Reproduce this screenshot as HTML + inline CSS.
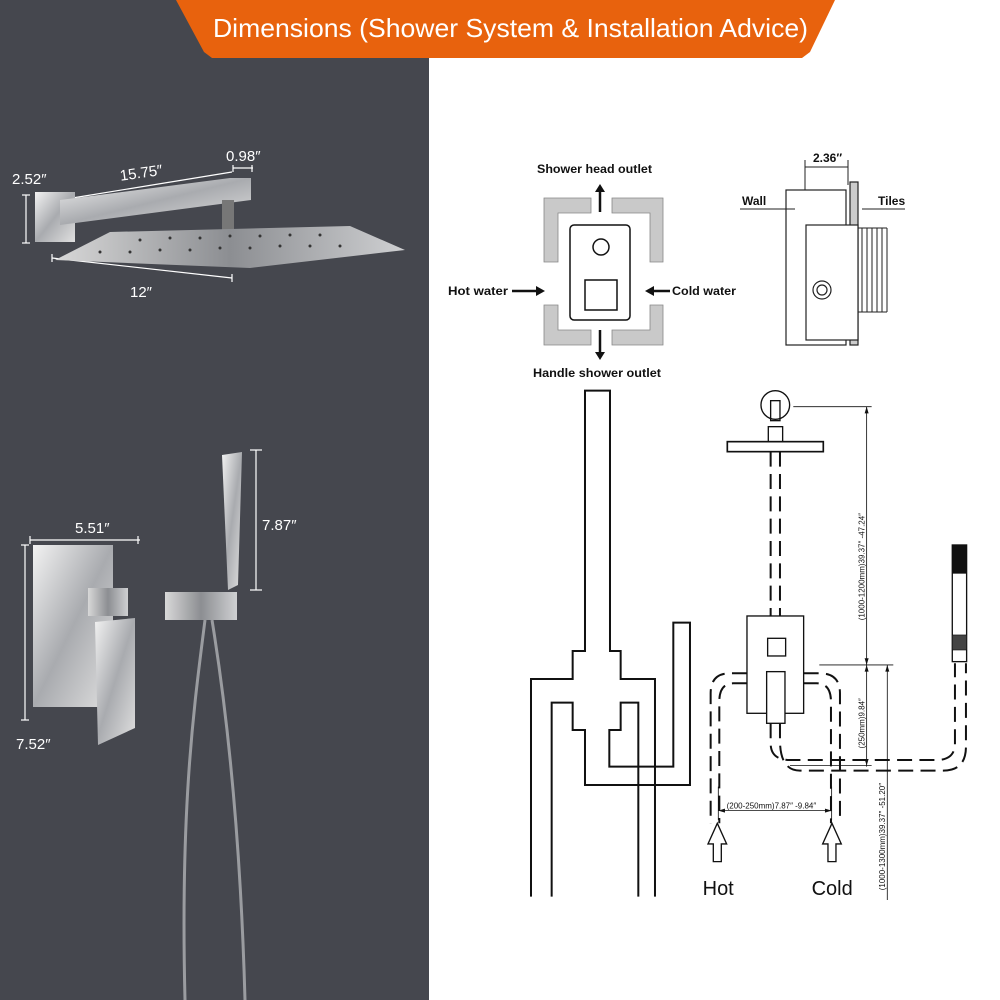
<!DOCTYPE html>
<html><head><meta charset="utf-8"><style>
html,body{margin:0;padding:0;background:#fff}
svg{display:block}
text{font-family:"Liberation Sans",sans-serif}
</style></head><body>
<svg width="1000" height="1000" viewBox="0 0 1000 1000" xmlns="http://www.w3.org/2000/svg">
<defs>
<linearGradient id="met" x1="0" y1="0" x2="1" y2="1"><stop offset="0" stop-color="#f2f2f2"/><stop offset="0.5" stop-color="#a9abaf"/><stop offset="1" stop-color="#e0e0e0"/></linearGradient>
<linearGradient id="met2" x1="0" y1="0" x2="1" y2="0"><stop offset="0" stop-color="#d8d8d8"/><stop offset="0.5" stop-color="#8c8e92"/><stop offset="1" stop-color="#cfd0d2"/></linearGradient>
</defs>
<rect x="0" y="0" width="1000" height="1000" fill="#fff"/>
<rect x="0" y="0" width="429" height="1000" fill="#45474e"/>
<!-- banner -->
<polygon points="176,0 835,0 810,52 802,58 212,58 204,52" fill="#e8620d"/>
<text x="213" y="37" font-size="26" fill="#fff" textLength="595" lengthAdjust="spacingAndGlyphs">Dimensions (Shower System &amp; Installation Advice)</text>

<!-- left: shower arm & head -->
<g fill="#fff" font-size="15">
<text x="12" y="184">2.52″</text>
<text x="120" y="178" transform="rotate(-8 140 175)">15.75″</text>
<text x="226" y="161">0.98″</text>
<text x="130" y="297">12″</text>
<text x="75" y="533">5.51″</text>
<text x="16" y="749">7.52″</text>
<text x="262" y="530">7.87″</text>
</g>
<g stroke="#fff" stroke-width="1.2" fill="none">
<line x1="26" y1="195" x2="26" y2="243"/><line x1="22" y1="195" x2="30" y2="195"/><line x1="22" y1="243" x2="30" y2="243"/>
<line x1="60" y1="200" x2="232" y2="172"/>
<line x1="233" y1="168" x2="253" y2="168"/><line x1="233" y1="165" x2="233" y2="172"/><line x1="252" y1="165" x2="252" y2="172"/>
<line x1="52" y1="258" x2="232" y2="278"/><line x1="52" y1="254" x2="52" y2="262"/><line x1="232" y1="274" x2="232" y2="282"/>
<line x1="30" y1="540" x2="140" y2="540"/><line x1="30" y1="536" x2="30" y2="544"/><line x1="138" y1="536" x2="138" y2="544"/>
<line x1="25" y1="545" x2="25" y2="720"/><line x1="21" y1="545" x2="29" y2="545"/><line x1="21" y1="720" x2="29" y2="720"/>
<line x1="256" y1="450" x2="256" y2="590"/><line x1="250" y1="450" x2="262" y2="450"/><line x1="250" y1="590" x2="262" y2="590"/>
</g>
<rect x="35" y="192" width="40" height="50" fill="url(#met)"/>
<polygon points="60,200 230,178 251,178 251,200 60,225" fill="url(#met)"/>
<rect x="222" y="200" width="12" height="30" fill="#777"/>
<polygon points="55,260 110,232 350,226 405,250 250,268" fill="url(#met2)"/>
<g fill="#333">
<circle cx="100" cy="252" r="1.5"/><circle cx="130" cy="252" r="1.5"/><circle cx="160" cy="250" r="1.5"/><circle cx="190" cy="250" r="1.5"/><circle cx="220" cy="248" r="1.5"/><circle cx="250" cy="248" r="1.5"/><circle cx="280" cy="246" r="1.5"/><circle cx="310" cy="246" r="1.5"/><circle cx="340" cy="246" r="1.5"/>
<circle cx="140" cy="240" r="1.5"/><circle cx="170" cy="238" r="1.5"/><circle cx="200" cy="238" r="1.5"/><circle cx="230" cy="236" r="1.5"/><circle cx="260" cy="236" r="1.5"/><circle cx="290" cy="235" r="1.5"/><circle cx="320" cy="235" r="1.5"/>
</g>
<!-- valve plate -->
<rect x="33" y="545" width="80" height="162" fill="url(#met)"/>
<rect x="88" y="588" width="40" height="28" fill="url(#met2)"/>
<polygon points="95,622 135,618 135,728 98,745" fill="url(#met)"/>
<!-- hand shower -->
<polygon points="222,455 242,452 238,585 228,590" fill="url(#met)"/>
<rect x="165" y="592" width="72" height="28" fill="url(#met2)"/>
<g stroke="#9a9ca0" stroke-width="3" fill="none">
<path d="M205,620 C195,700 180,800 185,1000"/>
<path d="M212,620 C225,700 240,820 245,1000"/>
</g>

<!-- top-right: valve front view -->
<g font-size="12" fill="#111" font-weight="bold">
<text x="537" y="173" textLength="115" lengthAdjust="spacingAndGlyphs">Shower head outlet</text>
<text x="448" y="295" textLength="60" lengthAdjust="spacingAndGlyphs">Hot water</text>
<text x="672" y="295" textLength="64" lengthAdjust="spacingAndGlyphs">Cold water</text>
<text x="533" y="377" textLength="128" lengthAdjust="spacingAndGlyphs">Handle shower outlet</text>
<text x="742" y="205">Wall</text>
<text x="878" y="205">Tiles</text>
<text x="813" y="162">2.36″</text>
</g>
<g fill="#c9c9c9" stroke="#888" stroke-width="0.8">
<path d="M544,198 H591 V213 H558 V262 H544 Z"/>
<path d="M612,198 H663 V262 H650 V213 H612 Z"/>
<path d="M544,305 H558 V330 H591 V345 H544 Z"/>
<path d="M650,305 H663 V345 H612 V330 H650 Z"/>
</g>
<g stroke="#111" stroke-width="1.5" fill="#fff">
<rect x="570" y="225" width="60" height="95" rx="4"/>
<circle cx="601" cy="247" r="8"/>
<rect x="585" y="280" width="32" height="30"/>
</g>
<g stroke="#111" stroke-width="2.5">
<line x1="600" y1="212" x2="600" y2="190"/><line x1="600" y1="330" x2="600" y2="355"/>
<line x1="512" y1="291" x2="538" y2="291"/><line x1="670" y1="291" x2="652" y2="291"/>
</g>
<polygon points="595,192 605,192 600,184" fill="#111"/>
<polygon points="595,352 605,352 600,360" fill="#111"/>
<polygon points="536,286 536,296 545,291" fill="#111"/>
<polygon points="654,286 654,296 645,291" fill="#111"/>
<!-- side view -->
<g stroke="#222" stroke-width="1.2" fill="#fff">
<rect x="786" y="190" width="60" height="155"/>
<rect x="850" y="182" width="8" height="163" fill="#ccc"/>
<rect x="806" y="225" width="52" height="115"/>
<circle cx="822" cy="290" r="9"/>
<circle cx="822" cy="290" r="5"/>
</g>
<g stroke="#222" stroke-width="1">
<line x1="862" y1="228" x2="862" y2="312"/><line x1="867" y1="228" x2="867" y2="312"/><line x1="872" y1="228" x2="872" y2="312"/><line x1="877" y1="228" x2="877" y2="312"/><line x1="882" y1="228" x2="882" y2="312"/><line x1="887" y1="228" x2="887" y2="312"/>
<line x1="858" y1="228" x2="887" y2="228"/><line x1="858" y1="312" x2="887" y2="312"/>
<line x1="805" y1="167" x2="848" y2="167"/><line x1="805" y1="160" x2="805" y2="190"/><line x1="848" y1="160" x2="848" y2="185"/>
<line x1="740" y1="209" x2="795" y2="209"/><line x1="862" y1="209" x2="905" y2="209"/>
</g>

<!-- bottom-right schematic -->
<g transform="translate(500,380) scale(0.3333)" fill="none" stroke="#111" stroke-width="6">
<path d="M93,1550 V897 H218 V813 H255 V32 H330 V813 H362 V897 H465 V1550"/>
<path d="M155,1550 V968 H218 V1050 H255 V1215 H570 V728 H520 V1160 H328 V1050 H362 V968 H415 V1550"/>
<circle cx="826" cy="75" r="43" stroke-width="4"/>
<rect x="812" y="62" width="28" height="60" stroke-width="4"/>
<rect x="805" y="140" width="43" height="45" stroke-width="4"/>
<rect x="682" y="185" width="288" height="30" stroke-width="5"/>
<g stroke-dasharray="45,22">
<line x1="812" y1="215" x2="812" y2="708"/><line x1="840" y1="215" x2="840" y2="708"/>
<path d="M741,880 H690 Q632,880 632,940 V1330"/>
<path d="M741,910 H700 Q658,910 658,965 V1330"/>
<path d="M911,880 H960 Q1020,880 1020,940 V1330"/>
<path d="M911,910 H950 Q993,910 993,965 V1330"/>
<path d="M812,1030 V1090 Q812,1140 870,1140 H1310 Q1365,1140 1365,1090 V850"/>
<path d="M840,1030 V1080 Q840,1172 900,1172 H1330 Q1398,1172 1398,1100 V850"/>
</g>
<rect x="741" y="708" width="170" height="292" fill="#fff" stroke-width="4"/>
<rect x="803" y="775" width="54" height="53" stroke-width="4"/>
<rect x="800" y="875" width="55" height="155" fill="#fff" stroke-width="4"/>
<rect x="1357" y="495" width="43" height="350" stroke-width="4"/>
<rect x="1357" y="495" width="43" height="85" fill="#111" stroke-width="2"/>
<rect x="1357" y="765" width="43" height="45" fill="#444" stroke-width="2"/>
<g stroke-width="2.5">
<line x1="880" y1="80" x2="1115" y2="80"/>
<line x1="1100" y1="80" x2="1100" y2="1160"/>
<line x1="958" y1="855" x2="1180" y2="855"/>
<line x1="870" y1="1157" x2="1115" y2="1157"/>
<line x1="1162" y1="855" x2="1162" y2="1560"/>
<line x1="655" y1="1292" x2="995" y2="1292"/>
<line x1="655" y1="1220" x2="655" y2="1320"/>
<line x1="995" y1="1220" x2="995" y2="1320"/>
</g>
<g fill="#111" stroke="none">
<polygon points="1094,100 1106,100 1100,80"/><polygon points="1094,835 1106,835 1100,855"/>
<polygon points="1094,875 1106,875 1100,855"/><polygon points="1094,1137 1106,1137 1100,1157"/>
<polygon points="1156,875 1168,875 1162,855"/>
<polygon points="675,1286 675,1298 655,1292"/><polygon points="975,1286 975,1298 995,1292"/>
</g>
<g stroke-width="4" fill="#fff">
<path d="M652,1330 L680,1392 H664 V1445 H640 V1392 H624 Z"/>
<path d="M996,1330 L1024,1392 H1008 V1445 H984 V1392 H968 Z"/>
</g>
<g stroke="none" fill="#111">
<text x="608" y="1545" font-size="60">Hot</text>
<text x="935" y="1545" font-size="60">Cold</text>
<text x="680" y="1285" font-size="24">(200-250mm)7.87″ -9.84″</text>
<text transform="translate(1093,560) rotate(-90)" font-size="24" text-anchor="middle">(1000-1200mm)39.37″ -47.24″</text>
<text transform="translate(1093,1030) rotate(-90)" font-size="24" text-anchor="middle">(250mm)9.84″</text>
<text transform="translate(1155,1370) rotate(-90)" font-size="24" text-anchor="middle">(1000-1300mm)39.37″ -51.20″</text>
</g>
</g>
</svg>
</body></html>
